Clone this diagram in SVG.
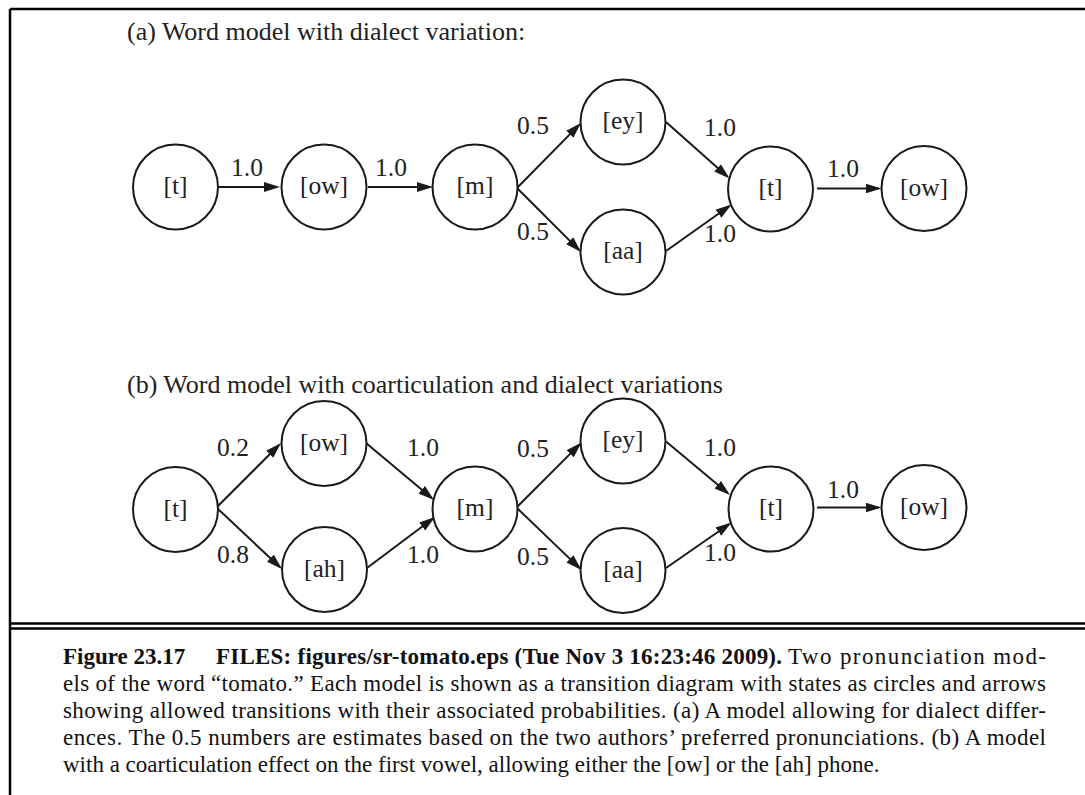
<svg xmlns="http://www.w3.org/2000/svg" width="1085" height="795" viewBox="0 0 1085 795">
<style>
.frame{stroke:#000;stroke-width:2.5;fill:none}
.node circle{fill:#fff;stroke:#1a1a1a;stroke-width:2}
.node text{font-family:"Liberation Serif","Times New Roman",serif;font-size:25.5px;fill:#222;text-anchor:middle}
.lbl{font-family:"Liberation Serif","Times New Roman",serif;font-size:25.5px;fill:#222}
.title{font-family:"Liberation Serif","Times New Roman",serif;font-size:26px;fill:#222}
.cap{font-family:"Liberation Serif","Times New Roman",serif;font-size:23px;fill:#111}
.capb{font-family:"Liberation Serif","Times New Roman",serif;font-size:23px;fill:#111;font-weight:bold}
#edges line{stroke:#1a1a1a;stroke-width:2;marker-end:url(#arr)}
</style>
<defs>
<marker id="arr" markerUnits="userSpaceOnUse" markerWidth="17" markerHeight="11" refX="13" refY="5.5" orient="auto">
<path d="M0,0.5 L16,5.5 L0,10.5 z" fill="#1a1a1a"/>
</marker>
</defs>
<rect width="1085" height="795" fill="#fff"/>
<g id="frame">
<line class="frame" x1="10" y1="9" x2="1085" y2="9"/>
<line class="frame" x1="10" y1="9" x2="10" y2="795"/>
<line class="frame" x1="10" y1="623.5" x2="1085" y2="623.5"/>
<line class="frame" x1="10" y1="628.5" x2="1085" y2="628.5"/>
</g>
<text class="title" x="127" y="40">(a) Word model with dialect variation:</text>
<text class="title" x="127" y="393">(b) Word model with coarticulation and dialect variations</text>
<g id="edges">
<line x1="218" y1="187" x2="277" y2="187"/>
<line x1="368" y1="187" x2="430" y2="187"/>
<line x1="517" y1="188" x2="578.9" y2="125.1"/>
<line x1="517" y1="188" x2="578.9" y2="249.9"/>
<line x1="666" y1="122" x2="727.3" y2="176.5"/>
<line x1="666" y1="251" x2="729.1" y2="206.2"/>
<line x1="817" y1="188.5" x2="878.5" y2="188.5"/>
<line x1="217" y1="507" x2="278.9" y2="445.1"/>
<line x1="217" y1="508" x2="279.8" y2="567"/>
<line x1="366" y1="443" x2="431.7" y2="498.1"/>
<line x1="367" y1="568" x2="432.6" y2="518.8"/>
<line x1="517" y1="507" x2="579.4" y2="444.6"/>
<line x1="517" y1="508" x2="579.3" y2="567.9"/>
<line x1="666" y1="441.5" x2="727.7" y2="493.1"/>
<line x1="666" y1="568" x2="729" y2="524.2"/>
<line x1="817" y1="507.5" x2="878.5" y2="507.5"/>
</g>
<g id="edge-labels">
<text class="lbl" x="231" y="176">1.0</text>
<text class="lbl" x="375" y="176">1.0</text>
<text class="lbl" x="517" y="134">0.5</text>
<text class="lbl" x="517" y="240">0.5</text>
<text class="lbl" x="704" y="136">1.0</text>
<text class="lbl" x="704" y="242">1.0</text>
<text class="lbl" x="827" y="177">1.0</text>
<text class="lbl" x="217" y="456">0.2</text>
<text class="lbl" x="217" y="563">0.8</text>
<text class="lbl" x="407" y="456">1.0</text>
<text class="lbl" x="407" y="563">1.0</text>
<text class="lbl" x="517" y="457">0.5</text>
<text class="lbl" x="517" y="565">0.5</text>
<text class="lbl" x="704" y="456">1.0</text>
<text class="lbl" x="704" y="561">1.0</text>
<text class="lbl" x="827" y="498">1.0</text>
</g>
<g id="a-t1" class="node"><circle cx="175.5" cy="187" r="42.5"/><text x="175.5" y="194">[t]</text></g>
<g id="a-ow1" class="node"><circle cx="324" cy="187" r="42.5"/><text x="324" y="194">[ow]</text></g>
<g id="a-m" class="node"><circle cx="475" cy="187" r="42.5"/><text x="475" y="194">[m]</text></g>
<g id="a-ey" class="node"><circle cx="623" cy="122" r="42.5"/><text x="623" y="129">[ey]</text></g>
<g id="a-aa" class="node"><circle cx="623" cy="252" r="42.5"/><text x="623" y="259">[aa]</text></g>
<g id="a-t2" class="node"><circle cx="770.5" cy="189" r="42.5"/><text x="770.5" y="196">[t]</text></g>
<g id="a-ow2" class="node"><circle cx="924" cy="188.5" r="42.5"/><text x="924" y="195.5">[ow]</text></g>
<g id="b-t1" class="node"><circle cx="175.5" cy="509.5" r="42.5"/><text x="175.5" y="516.5">[t]</text></g>
<g id="b-ow" class="node"><circle cx="324" cy="443.5" r="42.5"/><text x="324" y="450.5">[ow]</text></g>
<g id="b-ah" class="node"><circle cx="324.5" cy="569.5" r="42.5"/><text x="324.5" y="576.5">[ah]</text></g>
<g id="b-m" class="node"><circle cx="475" cy="509" r="42.5"/><text x="475" y="516">[m]</text></g>
<g id="b-ey" class="node"><circle cx="623" cy="441" r="42.5"/><text x="623" y="448">[ey]</text></g>
<g id="b-aa" class="node"><circle cx="623" cy="570.5" r="42.5"/><text x="623" y="577.5">[aa]</text></g>
<g id="b-t2" class="node"><circle cx="771" cy="509" r="42.5"/><text x="771" y="516">[t]</text></g>
<g id="b-ow2" class="node"><circle cx="924" cy="507.5" r="42.5"/><text x="924" y="514.5">[ow]</text></g>
<g id="caption">
<text class="capb" x="63" y="664">Figure 23.17</text>
<text class="capb" x="216" y="664" textLength="566" lengthAdjust="spacing">FILES: figures/sr-tomato.eps (Tue Nov 3 16:23:46 2009).</text>
<text class="cap" x="788" y="664" textLength="258" lengthAdjust="spacing">Two pronunciation mod-</text>
<text class="cap" x="63" y="691" textLength="983" lengthAdjust="spacing">els of the word “tomato.” Each model is shown as a transition diagram with states as circles and arrows</text>
<text class="cap" x="63" y="718" textLength="983" lengthAdjust="spacing">showing allowed transitions with their associated probabilities. (a) A model allowing for dialect differ-</text>
<text class="cap" x="63" y="745" textLength="983" lengthAdjust="spacing">ences. The 0.5 numbers are estimates based on the two authors’ preferred pronunciations. (b) A model</text>
<text class="cap" x="63" y="772">with a coarticulation effect on the first vowel, allowing either the [ow] or the [ah] phone.</text>
</g>
</svg>
